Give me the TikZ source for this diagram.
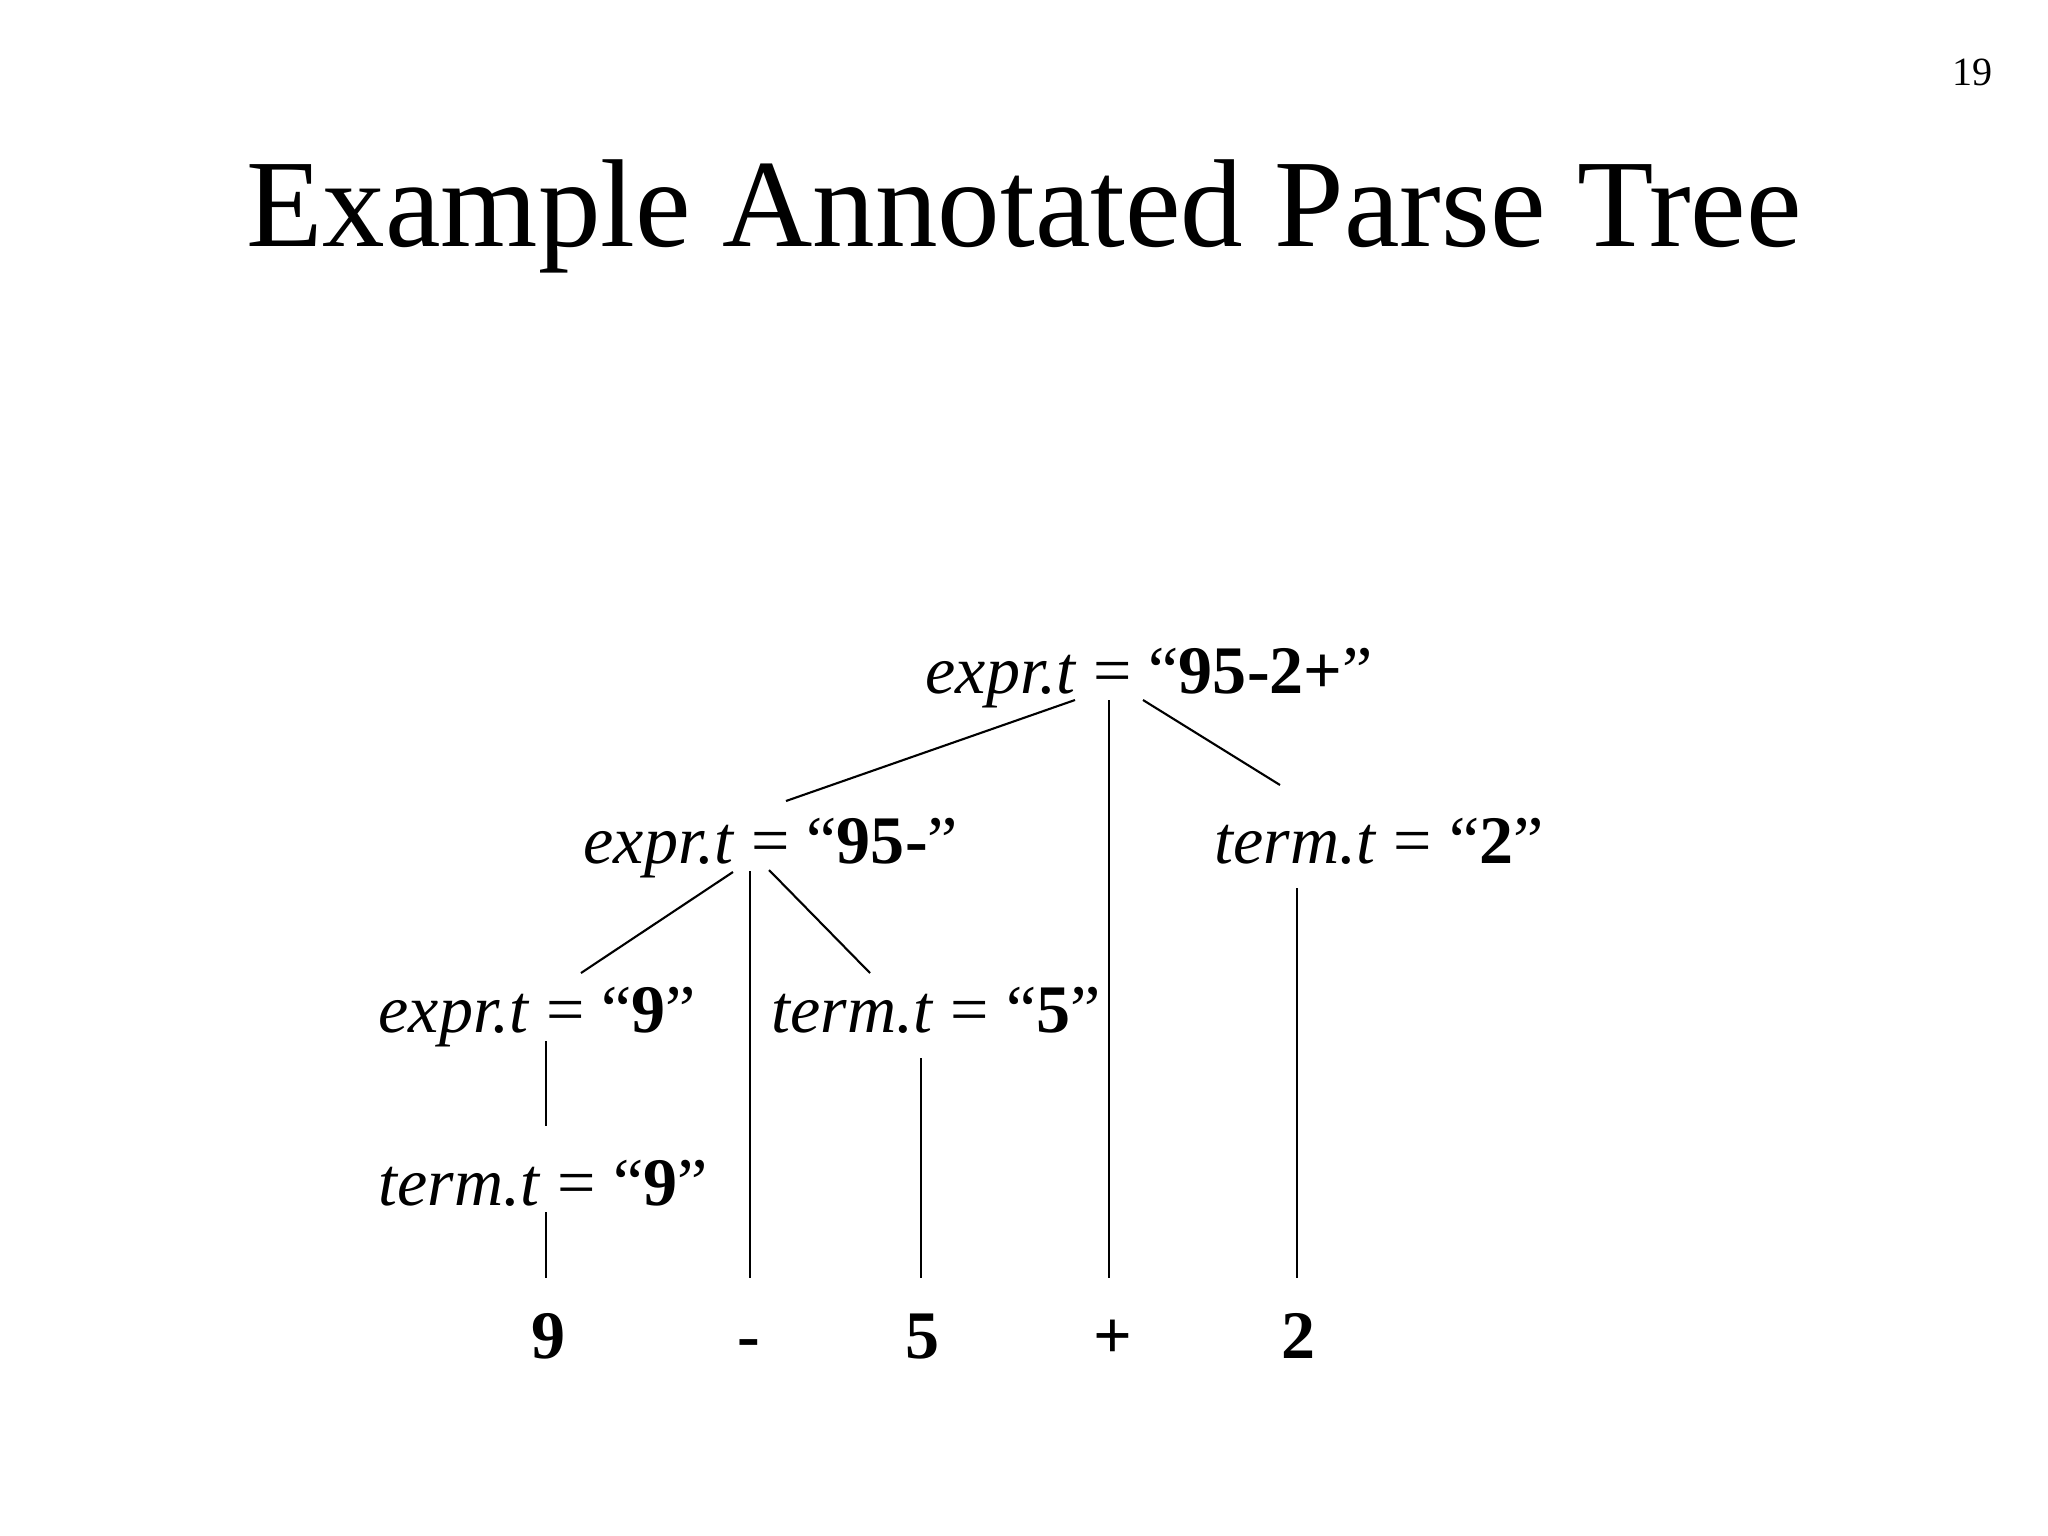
\documentclass[tikz,border=0pt]{standalone}
\usepackage{fontspec}
\setmainfont{Liberation Serif}
\begin{document}
\begin{tikzpicture}[x=0.01cm,y=-0.01cm,
  lbl/.style={font=\fontsize{19.35}{23}\selectfont, inner sep=0pt, anchor=base west},
  leaf/.style={font=\fontsize{19.35}{23}\selectfont\bfseries, inner sep=0pt, anchor=base},
  edge/.style={line width=0.6pt}]
\useasboundingbox[fill=white] (0,0) rectangle (2048,1536);
\node[font=\fontsize{11.4}{13}\selectfont, inner sep=0pt, anchor=base east] (page) at (1993,85) {19};
\node[font=\fontsize{35.57}{40}\selectfont, inner sep=0pt, anchor=base] (title) at (1024,246) {Example Annotated Parse Tree};
% tree nodes
\node[lbl] (root) at (925,693) {\textit{expr.t} = “\textbf{95-2+}”};
\node[lbl] (e95) at (583,863) {\textit{expr.t} = “\textbf{95-}”};
\node[lbl] (t2) at (1214,863) {\textit{term.t} = “\textbf{2}”};
\node[lbl] (e9) at (378,1032) {\textit{expr.t} = “\textbf{9}”};
\node[lbl] (t5) at (771,1032) {\textit{term.t} = “\textbf{5}”};
\node[lbl] (t9) at (378,1205) {\textit{term.t} = “\textbf{9}”};
% leaves
\node[leaf] (nine) at (549,1358) {9};
\node[leaf] (minus) at (749,1358) {-};
\node[leaf] (five) at (923,1358) {5};
\node[leaf] (plus) at (1113,1358) {+};
\node[leaf] (two) at (1298,1358) {2};
% connector end points
\coordinate (root-a) at (1075,700);
\coordinate (root-b) at (1109,700);
\coordinate (root-c) at (1143,700);
\coordinate (e95-top) at (786,801);
\coordinate (t2-top) at (1280,785);
\coordinate (e95-a) at (733,872);
\coordinate (e95-b) at (750,871);
\coordinate (e95-c) at (769,870);
\coordinate (e9-top) at (581,973);
\coordinate (t5-top) at (870,973);
\coordinate (t2-bot) at (1297,888);
\coordinate (e9-bot) at (546,1041);
\coordinate (t9-top) at (546,1126);
\coordinate (t5-bot) at (921,1058);
\coordinate (t9-bot) at (546,1212);
\coordinate (nine-top) at (546,1278);
\coordinate (minus-top) at (750,1278);
\coordinate (five-top) at (921,1278);
\coordinate (plus-top) at (1109,1278);
\coordinate (two-top) at (1297,1278);
% connectors
\draw[edge] (root-a) -- (e95-top);
\draw[edge] (root-b) -- (plus-top);
\draw[edge] (root-c) -- (t2-top);
\draw[edge] (e95-a) -- (e9-top);
\draw[edge] (e95-b) -- (minus-top);
\draw[edge] (e95-c) -- (t5-top);
\draw[edge] (t2-bot) -- (two-top);
\draw[edge] (e9-bot) -- (t9-top);
\draw[edge] (t5-bot) -- (five-top);
\draw[edge] (t9-bot) -- (nine-top);
\end{tikzpicture}
\end{document}
